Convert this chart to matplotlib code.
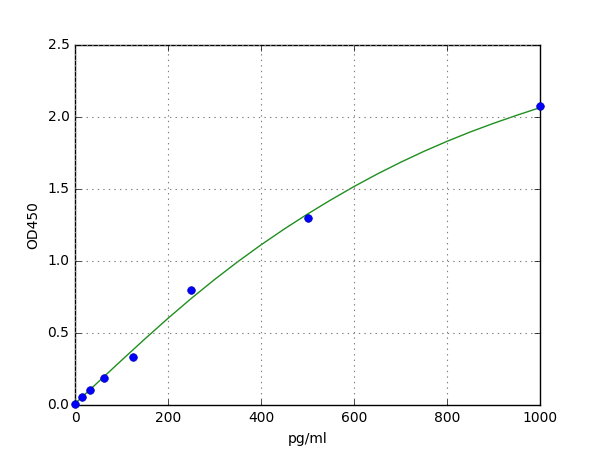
import matplotlib
matplotlib.use("Agg")
import matplotlib.pyplot as plt

plt.style.use("classic")

# standard points
conc = [0, 15.6, 31.25, 62.5, 125, 250, 500, 1000]
od = [0.01, 0.055, 0.105, 0.185, 0.33, 0.80, 1.30, 2.075]

# fitted curve
curve_x = [0, 50, 100, 150, 200, 250, 300, 350, 400, 450, 500,
           550, 600, 650, 700, 750, 800, 850, 900, 950, 1000]
curve_y = [0.01, 0.16, 0.31, 0.458, 0.602, 0.740, 0.871, 0.995, 1.112, 1.222, 1.326,
           1.424, 1.517, 1.604, 1.685, 1.761, 1.831, 1.896, 1.956, 2.012, 2.065]

xticks = [0, 200, 400, 600, 800, 1000]
yticks = [0.0, 0.5, 1.0, 1.5, 2.0, 2.5]

fig = plt.figure(figsize=(6, 4.5), dpi=100, facecolor="white")
ax = fig.add_axes([0.125, 0.1, 0.775, 0.8])
ax.plot(curve_x, curve_y, "-", color="#1f8f1f", lw=1)
ax.plot(conc, od, "bo", ms=5.5, mec="#0000aa", clip_on=False, zorder=5)
ax.set_xlim(0, 1000)
ax.set_ylim(0, 2.5)
ax.set_xticks(xticks)
ax.set_yticks(yticks)
ax.tick_params(labelsize=10)
ax.set_xlabel("pg/ml", fontsize=10)
ax.set_ylabel("OD450", fontsize=10)
ax.grid(True, color="gray", linestyle=":", lw=0.8)
fig.savefig("out.png", dpi=100, facecolor="white")
